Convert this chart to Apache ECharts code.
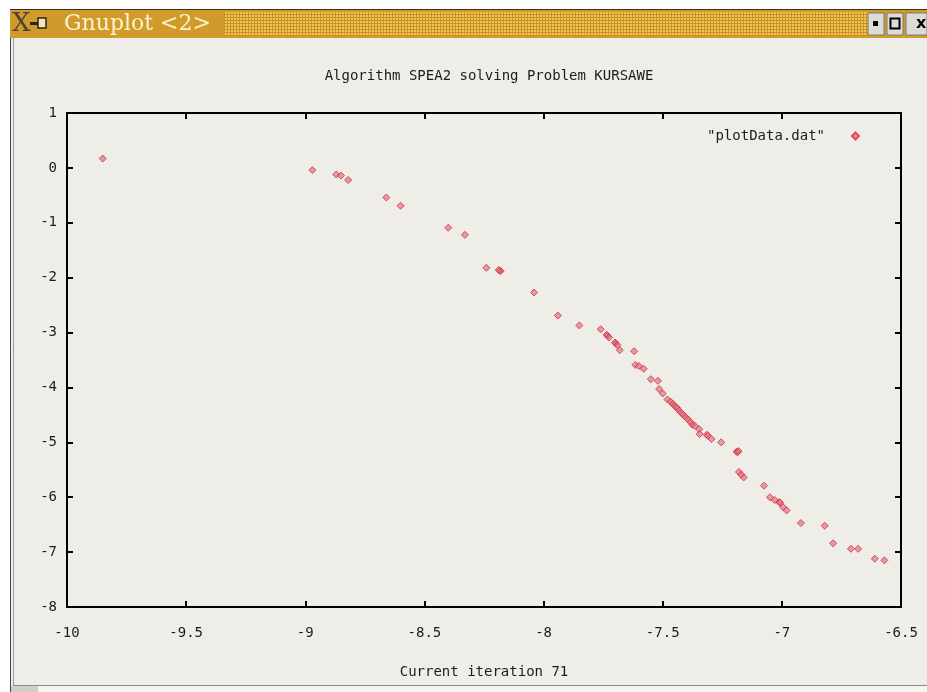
<!DOCTYPE html>
<html>
<head>
<meta charset="utf-8">
<script src="https://cdn.jsdelivr.net/npm/echarts@6/dist/echarts.min.js"></script>
<style>
  html, body { margin: 0; padding: 0; background: #ffffff; }
  #main { width: 927px; height: 692px; }
</style>
</head>
<body>
<div id="main"></div>
<script>
// values
var chartTitle = 'Algorithm SPEA2 solving Problem KURSAWE';
var xName = 'Current iteration 71';
var seriesName = '"plotData.dat"';

var xValues = [
  -9.85, -8.97, -8.87, -8.85, -8.82, -8.66, -8.60, -8.40, -8.33, -8.24,
  -8.184, -8.18, -8.188, -8.04, -7.94, -7.85, -7.76, -7.735, -7.732, -7.725,
  -7.70, -7.697, -7.69, -7.68, -7.62, -7.615, -7.60, -7.58, -7.55, -7.52,
  -7.515, -7.50, -7.48, -7.467, -7.458, -7.449, -7.44, -7.432, -7.423, -7.414,
  -7.404, -7.394, -7.384, -7.376, -7.365, -7.347, -7.345, -7.315, -7.311, -7.295,
  -7.255, -7.19, -7.186, -7.182, -7.18, -7.17, -7.16, -7.075, -7.05, -7.03,
  -7.011, -7.007, -6.995, -6.98, -6.92, -6.82, -6.785, -6.71, -6.68, -6.61,
  -6.57
];
var yValues = [
  0.17, -0.04, -0.12, -0.14, -0.22, -0.54, -0.69, -1.09, -1.22, -1.82,
  -1.87, -1.88, -1.86, -2.27, -2.69, -2.87, -2.94, -3.04, -3.06, -3.09,
  -3.18, -3.20, -3.23, -3.32, -3.34, -3.59, -3.61, -3.66, -3.85, -3.88,
  -4.03, -4.11, -4.22, -4.26, -4.30, -4.34, -4.37, -4.42, -4.46, -4.50,
  -4.54, -4.58, -4.63, -4.68, -4.70, -4.76, -4.85, -4.86, -4.88, -4.94,
  -5.00, -5.17, -5.18, -5.16, -5.54, -5.59, -5.64, -5.79, -6.00, -6.05,
  -6.09, -6.10, -6.18, -6.24, -6.47, -6.52, -6.84, -6.94, -6.94, -7.12,
  -7.15
];

var xMin = -10, xMax = -6.5, xStep = 0.5;
var yMin = -8, yMax = 1, yStep = 1;

var points = xValues.map(function (x, i) { return [x, yValues[i]]; });

var monoFont = '"DejaVu Sans Mono", "Liberation Mono", monospace';
var textColor = '#1c1c1c';

// stippled strip of the title bar
var dots = document.createElement('canvas');
dots.width = 3; dots.height = 3;
var dctx = dots.getContext('2d');
dctx.fillStyle = '#c9931f';
dctx.fillRect(0, 0, 3, 3);
dctx.fillStyle = '#f0c85a';
dctx.fillRect(0, 0, 2, 2);

var chart = echarts.init(document.getElementById('main'));

function frameAxis(pos, isX) {
  var ax = {
    type: 'value',
    position: pos,
    min: isX ? xMin : yMin,
    max: isX ? xMax : yMax,
    interval: isX ? xStep : yStep,
    axisLine: { show: true, onZero: false, lineStyle: { color: '#000', width: 2 } },
    axisTick: { show: true, inside: true, length: 6, lineStyle: { color: '#000', width: 2 } },
    axisLabel: { show: false },
    splitLine: { show: false }
  };
  return ax;
}

var xTop = frameAxis('top', true);
var yRight = frameAxis('right', false);

chart.setOption({
  backgroundColor: '#eeede7',
  animation: false,
  title: {
    text: chartTitle,
    left: 484,
    top: 64,
    textAlign: 'center',
    textStyle: { fontFamily: monoFont, fontSize: 14, fontWeight: 'normal', color: textColor }
  },
  legend: {
    top: 124,
    right: 62,
    align: 'right',
    itemWidth: 7,
    itemHeight: 7,
    itemGap: 0,
    textStyle: { fontFamily: monoFont, fontSize: 14, color: textColor, padding: [0, 22, 0, 0] },
    data: [{ name: seriesName, icon: 'diamond' }]
  },
  grid: { left: 67, right: 26, top: 113, bottom: 85 },
  xAxis: [
    {
      type: 'value',
      position: 'bottom',
      min: xMin, max: xMax, interval: xStep,
      name: xName,
      nameLocation: 'middle',
      nameGap: 58,
      nameTextStyle: { fontFamily: monoFont, fontSize: 14, color: textColor },
      axisLine: { show: true, onZero: false, lineStyle: { color: '#000', width: 2 } },
      axisTick: { show: true, inside: true, length: 6, lineStyle: { color: '#000', width: 2 } },
      axisLabel: { margin: 19, fontFamily: monoFont, fontSize: 14, color: textColor },
      splitLine: { show: false }
    },
    xTop
  ],
  yAxis: [
    {
      type: 'value',
      position: 'left',
      min: yMin, max: yMax, interval: yStep,
      axisLine: { show: true, onZero: false, lineStyle: { color: '#000', width: 2 } },
      axisTick: { show: true, inside: true, length: 6, lineStyle: { color: '#000', width: 2 } },
      axisLabel: { margin: 10, fontFamily: monoFont, fontSize: 14, color: textColor },
      splitLine: { show: false }
    },
    yRight
  ],
  series: [{
    name: seriesName,
    type: 'scatter',
    symbol: 'diamond',
    symbolSize: 7,
    itemStyle: { color: 'rgba(214,110,128,0.8)', borderColor: '#e0283a', borderWidth: 1 },
    data: points
  }],
  graphic: [
    // outside of the window
    { type: 'rect', shape: { x: 0, y: 0, width: 927, height: 9 }, style: { fill: '#ffffff' }, silent: true },
    { type: 'rect', shape: { x: 0, y: 0, width: 10, height: 692 }, style: { fill: '#ffffff' }, silent: true },
    { type: 'line', shape: { x1: 10.5, y1: 9, x2: 10.5, y2: 692 }, style: { stroke: '#444', lineWidth: 1 }, silent: true },
    { type: 'line', shape: { x1: 13.5, y1: 38, x2: 13.5, y2: 685 }, style: { stroke: '#9a9a96', lineWidth: 1 }, silent: true },
    // bottom edge / status strip
    { type: 'line', shape: { x1: 13, y1: 685.5, x2: 927, y2: 685.5 }, style: { stroke: '#8a8a86', lineWidth: 1 }, silent: true },
    { type: 'rect', shape: { x: 11, y: 686, width: 916, height: 6 }, style: { fill: '#f4f4f2' }, silent: true },
    { type: 'rect', shape: { x: 11, y: 686, width: 27, height: 6 }, style: { fill: '#cfcfca' }, silent: true },
    // title bar
    { type: 'rect', shape: { x: 10, y: 9, width: 917, height: 29 }, style: { fill: '#d09b2a' }, silent: true },
    { type: 'line', shape: { x1: 10, y1: 9.5, x2: 927, y2: 9.5 }, style: { stroke: '#3a3020', lineWidth: 1 }, silent: true },
    { type: 'rect', shape: { x: 224, y: 12, width: 644, height: 24 }, style: { fill: { image: dots, repeat: 'repeat' } }, silent: true },
    { type: 'text', x: 12, y: 24, style: { text: 'X', fontFamily: '"DejaVu Serif", serif', fontSize: 26, fill: '#4e4232', textVerticalAlign: 'middle' }, silent: true },
    { type: 'rect', shape: { x: 30, y: 22, width: 8, height: 3 }, style: { fill: '#2b2418' }, silent: true },
    { type: 'rect', shape: { x: 38, y: 18, width: 8, height: 10 }, style: { fill: '#f2e6c0', stroke: '#2b2418', lineWidth: 1.5 }, silent: true },
    { type: 'text', x: 64, y: 24, style: { text: 'Gnuplot <2>', fontFamily: '"DejaVu Serif", "Liberation Serif", serif', fontSize: 22, fill: '#fbf2cf', textVerticalAlign: 'middle' }, silent: true },
    // window buttons
    { type: 'rect', shape: { x: 868, y: 13, width: 16, height: 22 }, style: { fill: '#dcdcd6', stroke: '#7a7a74', lineWidth: 1 }, silent: true },
    { type: 'rect', shape: { x: 873, y: 21, width: 5, height: 5 }, style: { fill: '#000' }, silent: true },
    { type: 'rect', shape: { x: 887, y: 13, width: 16, height: 22 }, style: { fill: '#dcdcd6', stroke: '#7a7a74', lineWidth: 1 }, silent: true },
    { type: 'rect', shape: { x: 890.5, y: 18.5, width: 9, height: 10 }, style: { fill: 'none', stroke: '#000', lineWidth: 2 }, silent: true },
    { type: 'rect', shape: { x: 906, y: 13, width: 21, height: 22 }, style: { fill: '#dcdcd6', stroke: '#7a7a74', lineWidth: 1 }, silent: true },
    { type: 'text', x: 916, y: 24, style: { text: 'x', fontFamily: '"DejaVu Sans", sans-serif', fontWeight: 'bold', fontSize: 16, fill: '#000', textVerticalAlign: 'middle' }, silent: true }
  ]
});
</script>
</body>
</html>
